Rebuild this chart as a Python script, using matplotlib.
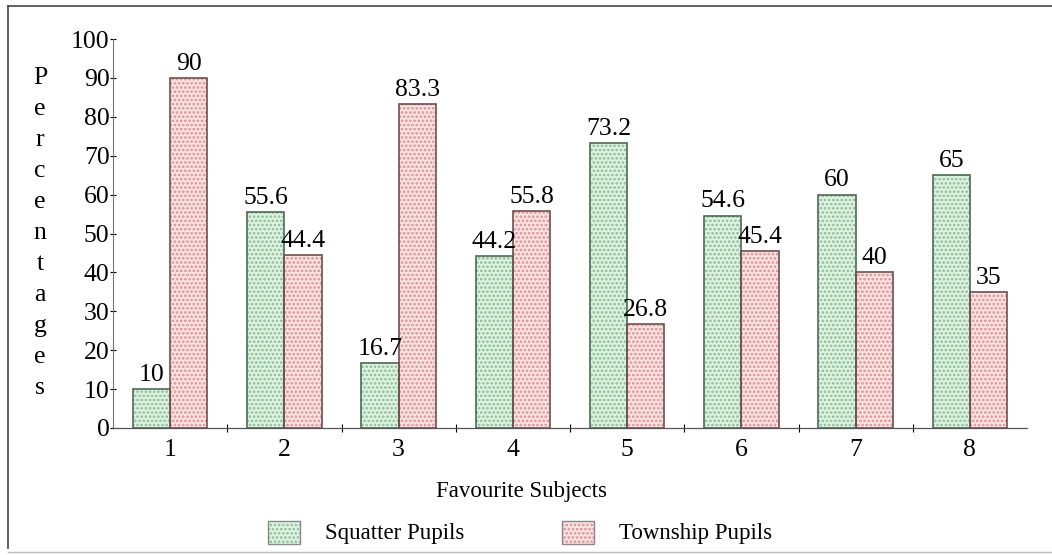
import matplotlib
matplotlib.use("Agg")
import matplotlib.pyplot as plt
from matplotlib.patches import Rectangle
from matplotlib.lines import Line2D
import numpy as np

plt.rcParams['font.family'] = ['Liberation Serif', 'DejaVu Serif']
plt.rcParams['hatch.linewidth'] = 1.3

categories = ['1', '2', '3', '4', '5', '6', '7', '8']
squatter = [10, 55.6, 16.7, 44.2, 73.2, 54.6, 60, 65]
township = [90, 44.4, 83.3, 55.8, 26.8, 45.4, 40, 35]
series_names = ['Squatter Pupils', 'Township Pupils']
yticks = [0, 10, 20, 30, 40, 50, 60, 70, 80, 90, 100]

W, H = 1052, 555
fig = plt.figure(figsize=(W / 100, H / 100), dpi=100)
ax = fig.add_axes([113 / W, 1 - 428 / H, (1027 - 113) / W, (428 - 39) / H])

x = np.arange(1, len(categories) + 1)
bw = 0.325

g_face, g_hatch, g_edge = '#e2f2e4', '#86c092', '#4d6b55'
r_face, r_hatch, r_edge = '#fbe4e4', '#e08f8f', '#6e5050'

NUM = 18.5
TXT = 16.5

def draw(xs, vals, face, hatchc, edge):
    ax.bar(xs, vals, bw, color=face, edgecolor=hatchc, hatch='....', linewidth=0, zorder=2)
    ax.bar(xs, vals, bw, facecolor='none', edgecolor=edge, linewidth=1.2, zorder=3)

draw(x - bw / 2, squatter, g_face, g_hatch, g_edge)
draw(x + bw / 2, township, r_face, r_hatch, r_edge)

for xi, v in zip(x - bw / 2, squatter):
    ax.text(xi, v + 0.8, f'{v:g}', ha='center', va='bottom', fontsize=NUM)
for xi, v in zip(x + bw / 2, township):
    ax.text(xi, v + 0.8, f'{v:g}', ha='center', va='bottom', fontsize=NUM)

ax.set_xlim(0.5, len(categories) + 0.5)
ax.set_ylim(0, 100)
ax.set_yticks(yticks)
ax.set_yticklabels([str(t) for t in yticks], fontsize=NUM)
ax.set_xticks(x)
ax.set_xticklabels(categories, fontsize=NUM)
ax.tick_params(axis='x', length=0, pad=8)
ax.tick_params(axis='y', length=5, direction='inout', width=0.8, pad=0)
ax.set_xticks(np.arange(1.5, len(categories), 1.0), minor=True)
ax.tick_params(axis='x', which='minor', length=6, direction='inout', width=0.8)
for s in ['top', 'right']:
    ax.spines[s].set_visible(False)
ax.spines['left'].set_color('#777777')
ax.spines['bottom'].set_color('#555555')
ax.spines['left'].set_linewidth(0.8)
ax.spines['bottom'].set_linewidth(0.9)

# vertical y label, stacked letters
word = 'Percentages'
for i, ch in enumerate(word):
    fig.text(40 / W, 1 - (78 + i * 31) / H, ch, ha='center', va='center', fontsize=NUM)

fig.text(522 / W, 1 - 492 / H, 'Favourite Subjects', ha='center', va='center', fontsize=TXT)

# legend
for (x0, face, hatchc, edge, name) in [(268, g_face, g_hatch, g_edge, series_names[0]),
                                        (562, r_face, r_hatch, r_edge, series_names[1])]:
    p = Rectangle((x0 / W, 1 - 544 / H), 32 / W, 23 / H, transform=fig.transFigure,
                  facecolor=face, edgecolor=hatchc, hatch='....', linewidth=0)
    fig.patches.append(p)
    p2 = Rectangle((x0 / W, 1 - 544 / H), 32 / W, 23 / H, transform=fig.transFigure,
                   facecolor='none', edgecolor='#888888', linewidth=1)
    fig.patches.append(p2)
    fig.text((x0 + 57) / W, 1 - 533 / H, name, ha='left', va='center', fontsize=TXT)

# frame lines
fig.add_artist(Line2D([8 / W, 8 / W], [1 - 548 / H, 1 - 6 / H], color='#444444', lw=1.2))
fig.add_artist(Line2D([8 / W, 1.0], [1 - 6 / H, 1 - 6 / H], color='#444444', lw=1.2))
fig.add_artist(Line2D([8 / W, 1.0], [1 - 552 / H, 1 - 552 / H], color='#bbbbbb', lw=1.0))

fig.savefig('out.png', dpi=100)
